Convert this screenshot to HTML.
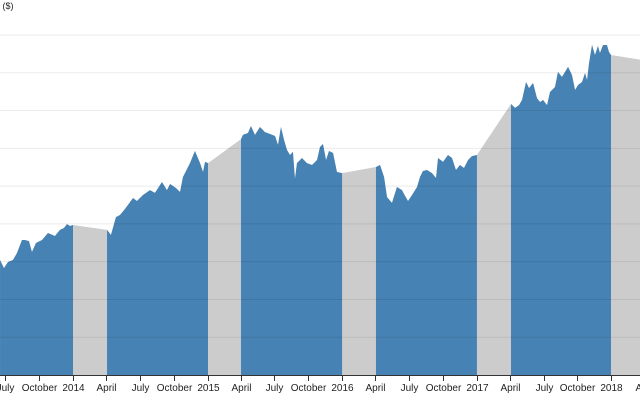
<!DOCTYPE html>
<html><head><meta charset="utf-8"><style>
html,body{margin:0;padding:0;background:#fff;}
svg{display:block;font-family:"Liberation Sans",sans-serif;}
</style></head><body>
<svg id="chart" width="640" height="400"></svg>
<script>
const years=[2013.458,2013.487,2013.517,2013.554,2013.584,2013.621,2013.643,2013.673,2013.695,2013.725,2013.770,2013.814,2013.866,2013.903,2013.933,2013.955,2013.978,2014.000,
2014.253,2014.282,2014.319,2014.349,2014.386,2014.446,2014.475,2014.520,2014.572,2014.609,2014.661,2014.698,2014.721,2014.765,2014.795,2014.817,2014.869,2014.906,2014.944,2014.966,2014.981,2015.003,
2015.248,2015.263,2015.300,2015.322,2015.352,2015.389,2015.426,2015.464,2015.501,2015.523,2015.545,2015.568,2015.590,2015.612,2015.634,2015.649,2015.664,2015.701,2015.738,2015.776,2015.813,2015.835,2015.857,2015.880,2015.902,2015.932,2015.961,2015.999,
2016.251,2016.281,2016.311,2016.333,2016.370,2016.407,2016.444,2016.467,2016.489,2016.519,2016.556,2016.578,2016.600,2016.630,2016.667,2016.697,2016.712,2016.749,2016.786,2016.816,2016.845,2016.875,2016.905,2016.935,2016.964,2017.001,
2017.254,2017.284,2017.314,2017.336,2017.366,2017.388,2017.418,2017.447,2017.470,2017.492,2017.522,2017.544,2017.581,2017.603,2017.633,2017.655,2017.678,2017.707,2017.730,2017.752,2017.782,2017.804,2017.819,2017.834,2017.856,2017.878,2017.900,2017.915,2017.938,2017.967,2017.982,2017.997,
2018.25];
const prices=[60.9,56.6,59.8,60.9,64.6,71.5,71.5,70.9,65.1,69.9,71.5,75.2,73.6,76.8,77.8,79.9,78.9,79.4,
76.8,74.1,83.6,84.7,87.9,93.7,92.1,95.3,97.9,96.4,102.2,97.9,101.1,99.0,96.9,104.8,112.2,118.6,112.2,107.5,112.8,112.2,
124.9,127.1,128.1,131.8,127.1,131.3,128.6,127.6,126.5,121.8,131.3,124.4,119.1,116.5,118.1,103.8,112.2,114.9,112.2,111.2,113.8,120.7,122.3,113.8,118.6,117.5,107.5,106.9,
110.1,111.2,104.8,94.2,91.1,99.5,97.9,94.8,92.1,95.3,99.5,104.8,108.0,108.5,106.9,104.3,114.9,112.8,116.5,114.9,108.5,111.2,109.6,113.8,115.9,116.5,
143.5,141.4,142.9,145.6,155.1,151.9,154.6,146.6,144.5,145.6,142.9,149.8,152.5,160.4,157.8,160.4,163.1,158.8,150.9,153.5,155.1,159.9,156.1,165.2,174.7,169.4,174.2,170.5,174.7,174.7,171.0,169.4,
166.5];
const yTicks=[20,40,60,80,100,120,140,160,180];
const xTickYears=[2013.496,2013.748,2014,2014.246,2014.496,2014.748,2015,2015.246,2015.496,2015.748,2016,2016.246,2016.496,2016.748,2017,2017.246,2017.496,2017.748,2018,2018.246];
const xTickLabels=["July","October","2014","April","July","October","2015","April","July","October","2016","April","July","October","2017","April","July","October","2018","April"];

const NS="http://www.w3.org/2000/svg";
const svg=document.getElementById('chart');
const x=t=>73+(t-2014)*134.6;
const y=v=>375-v*340/180;
function mk(tag,attrs){const e=document.createElementNS(NS,tag);for(const k in attrs)e.setAttribute(k,attrs[k]);svg.appendChild(e);return e;}
function areaPath(idx){let d='';idx.forEach((i,j)=>{d+=(j?'L':'M')+x(years[i]).toFixed(2)+','+y(prices[i]).toFixed(2);});
 d+='L'+x(years[idx[idx.length-1]]).toFixed(2)+','+y(0)+'L'+x(years[idx[0]]).toFixed(2)+','+y(0)+'Z';return d;}

const all=years.map((_,i)=>i);
const g=mk('path',{d:areaPath(all),fill:'#cccccc'});


let runs=[],cur=[0];
for(let i=1;i<years.length;i++){if(years[i]-years[i-1]>0.2){runs.push(cur);cur=[i];}else cur.push(i);}
runs.push(cur);
runs.filter(r=>r.length>1).forEach((r,k)=>{
 const p=mk('path',{d:areaPath(r),fill:'#4682b4'});
 
 
});
yTicks.forEach(v=>{
 const l=mk('line',{x1:0,x2:640,y1:y(v),y2:y(v),stroke:'#000','stroke-opacity':0.08});
 
 
});
const ax=mk('line',{x1:0,x2:640,y1:375.5,y2:375.5,stroke:'#333'});


xTickYears.forEach((t,i)=>{
 const px=Math.round(x(t))+0.5;
 const tk=mk('line',{x1:px,x2:px,y1:375,y2:381,stroke:'#333'});
 
 
 const tx=mk('text',{x:px,y:391,'text-anchor':'middle','font-size':10,fill:'#222'});
 tx.textContent=xTickLabels[i];
 
 
});
const yl=mk('text',{x:13.5,y:9,'text-anchor':'end','font-size':9,fill:'#222'});
yl.textContent='Price ($)';


</script>
</body></html>
